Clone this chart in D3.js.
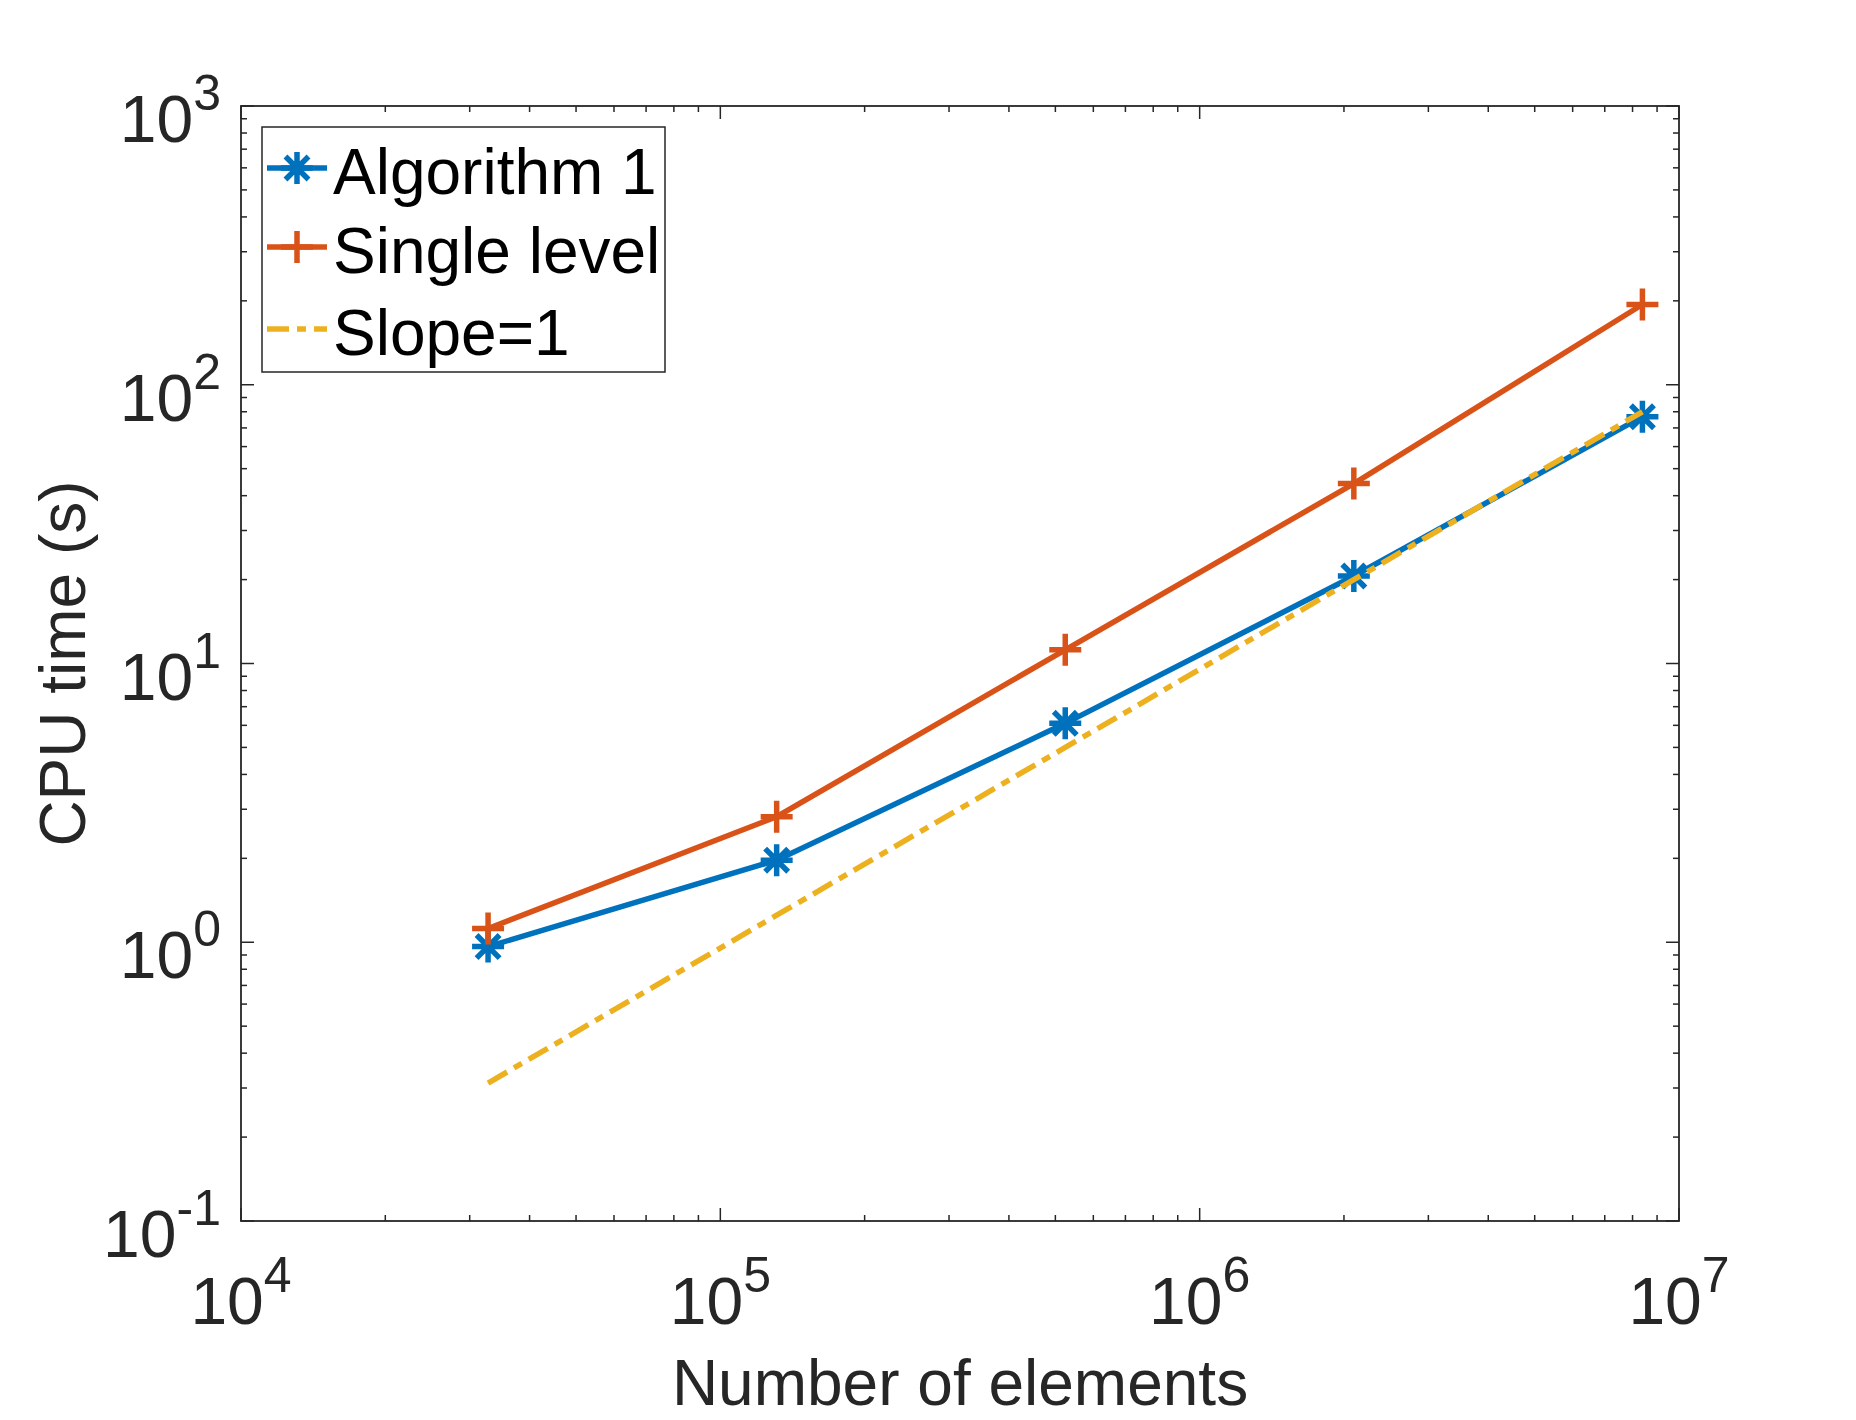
<!DOCTYPE html>
<html>
<head>
<meta charset="utf-8">
<script src="https://cdn.jsdelivr.net/npm/d3@7"></script>
<style>
  html, body { margin: 0; padding: 0; background: #ffffff; }
  svg { display: block; }
  text { font-family: "Liberation Sans", Arial, Helvetica, sans-serif; }
</style>
</head>
<body>
<script>
// ---- data ----
const elements    = [32768, 131072, 524288, 2097152, 8388608];
const algorithm1  = [0.965, 1.97, 6.1, 20.6, 76.8];
const singleLevel = [1.12, 2.82, 11.2, 44.2, 194];
const slopeOne    = [0.3125, 1.25, 5, 20, 80];
const xTickValues = [1e4, 1e5, 1e6, 1e7];
const xTickExps   = ["4", "5", "6", "7"];
const yTickValues = [0.1, 1, 10, 100, 1000];
const yTickExps   = ["-1", "0", "1", "2", "3"];
const seriesNames = ["Algorithm 1", "Single level", "Slope=1"];
const xLabel = "Number of elements";
const yLabel = "CPU time (s)";

// ---- layout ----
const W = 1856, H = 1420;
const L = 241, R = 1679, T = 106, B = 1221;
const axisColor = "#262626";
const colors = ["#0072BD", "#D95319", "#EDB120"];
const lw = 5.5;
const dashPattern = "22,8,9,8";

const svg = d3.select("body").append("svg").attr("width", W).attr("height", H);
svg.append("rect").attr("width", W).attr("height", H).attr("fill", "#fff");

const x = d3.scaleLog().domain([1e4, 1e7]).range([L, R]);
const y = d3.scaleLog().domain([0.1, 1000]).range([B, T]);

// minor tick values
function minors(lo, hi) {
  const out = [];
  for (let e = Math.log10(lo); e < Math.log10(hi); e++) {
    for (let m = 2; m <= 9; m++) out.push(m * Math.pow(10, e));
  }
  return out;
}
const xMinor = minors(1e4, 1e7);
const yMinor = minors(0.1, 1000);

const majLen = 13, minLen = 6;
const ticks = svg.append("g").attr("stroke", axisColor).attr("stroke-width", 1.5);
xTickValues.forEach(v => {
  ticks.append("line").attr("x1", x(v)).attr("x2", x(v)).attr("y1", B).attr("y2", B - majLen);
  ticks.append("line").attr("x1", x(v)).attr("x2", x(v)).attr("y1", T).attr("y2", T + majLen);
});
xMinor.forEach(v => {
  ticks.append("line").attr("x1", x(v)).attr("x2", x(v)).attr("y1", B).attr("y2", B - minLen);
  ticks.append("line").attr("x1", x(v)).attr("x2", x(v)).attr("y1", T).attr("y2", T + minLen);
});
yTickValues.forEach(v => {
  ticks.append("line").attr("y1", y(v)).attr("y2", y(v)).attr("x1", L).attr("x2", L + majLen);
  ticks.append("line").attr("y1", y(v)).attr("y2", y(v)).attr("x1", R).attr("x2", R - majLen);
});
yMinor.forEach(v => {
  ticks.append("line").attr("y1", y(v)).attr("y2", y(v)).attr("x1", L).attr("x2", L + minLen);
  ticks.append("line").attr("y1", y(v)).attr("y2", y(v)).attr("x1", R).attr("x2", R - minLen);
});

// axes box
svg.append("rect").attr("x", L).attr("y", T).attr("width", R - L).attr("height", B - T)
  .attr("fill", "none").attr("stroke", axisColor).attr("stroke-width", 1.8);

// tick labels
const baseSize = 66, supSize = 50, supRise = 32;
xTickValues.forEach((v, i) => {
  const t = svg.append("text").attr("x", x(v)).attr("y", B + 103)
    .attr("text-anchor", "middle").attr("fill", axisColor).attr("font-size", baseSize);
  t.append("tspan").text("10");
  t.append("tspan").attr("font-size", supSize).attr("dy", -supRise).text(xTickExps[i]);
});
yTickValues.forEach((v, i) => {
  const t = svg.append("text").attr("x", L - 20).attr("y", y(v) + 36)
    .attr("text-anchor", "end").attr("fill", axisColor).attr("font-size", baseSize);
  t.append("tspan").text("10");
  t.append("tspan").attr("font-size", supSize).attr("dy", -supRise).text(yTickExps[i]);
});

// axis labels
svg.append("text").attr("x", (L + R) / 2).attr("y", 1405).attr("text-anchor", "middle")
  .attr("fill", axisColor).attr("font-size", 64).text(xLabel);
svg.append("text").attr("transform", `translate(85,${(T + B) / 2}) rotate(-90)`)
  .attr("text-anchor", "middle").attr("fill", axisColor).attr("font-size", 64).text(yLabel);

// markers
function drawStar(g, cx, cy, color) {
  const r = 16, d = r * 0.72;
  const p = `M${cx - r},${cy}L${cx + r},${cy}M${cx},${cy - r}L${cx},${cy + r}` +
            `M${cx - d},${cy - d}L${cx + d},${cy + d}M${cx - d},${cy + d}L${cx + d},${cy - d}`;
  g.append("path").attr("d", p).attr("stroke", color).attr("stroke-width", lw).attr("fill", "none");
}
function drawPlus(g, cx, cy, color) {
  const r = 16;
  const p = `M${cx - r},${cy}L${cx + r},${cy}M${cx},${cy - r}L${cx},${cy + r}`;
  g.append("path").attr("d", p).attr("stroke", color).attr("stroke-width", lw).attr("fill", "none");
}

const line = d3.line().x(d => x(d[0])).y(d => y(d[1]));
const series = [
  { vals: algorithm1, color: colors[0], marker: drawStar, dash: null },
  { vals: singleLevel, color: colors[1], marker: drawPlus, dash: null },
  { vals: slopeOne, color: colors[2], marker: null, dash: dashPattern }
];
series.forEach(s => {
  const g = svg.append("g");
  const pts = elements.map((e, i) => [e, s.vals[i]]);
  g.append("path").attr("d", line(pts)).attr("fill", "none").attr("stroke", s.color)
    .attr("stroke-width", lw).attr("stroke-dasharray", s.dash);
  if (s.marker) pts.forEach(p => s.marker(g, x(p[0]), y(p[1]), s.color));
});

// legend
const lg = svg.append("g");
lg.append("rect").attr("x", 262).attr("y", 127).attr("width", 403).attr("height", 245)
  .attr("fill", "#fff").attr("stroke", axisColor).attr("stroke-width", 1.5);
const rowY = [194, 273, 355];
series.forEach((s, i) => {
  const ly = rowY[i] - 26;
  lg.append("line").attr("x1", 267).attr("x2", 327).attr("y1", ly).attr("y2", ly)
    .attr("stroke", s.color).attr("stroke-width", lw).attr("stroke-dasharray", s.dash);
  if (s.marker) s.marker(lg, 297, ly, s.color);
  lg.append("text").attr("x", 333).attr("y", rowY[i]).attr("font-size", 64)
    .attr("fill", "#000").text(seriesNames[i]);
});
</script>
</body>
</html>
